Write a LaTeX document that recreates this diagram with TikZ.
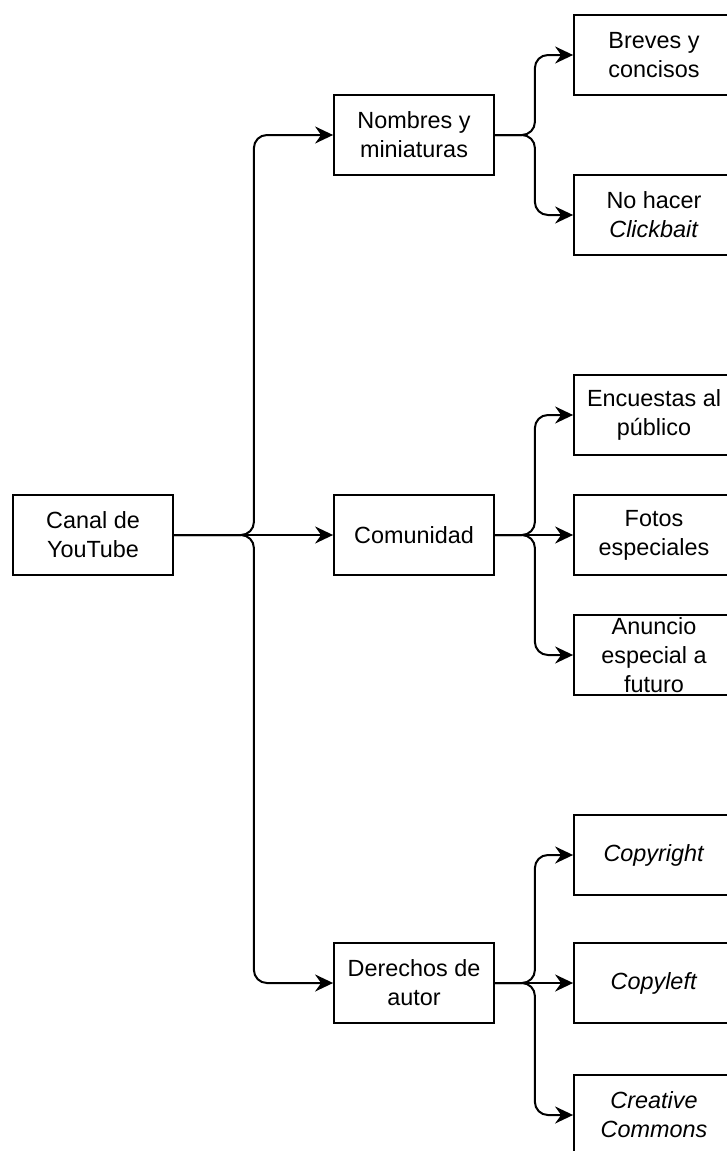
\documentclass[tikz,border=0pt]{standalone}
\usepackage{fontspec}
\setmainfont{Liberation Sans}
\usetikzlibrary{arrows.meta}
\tikzset{
  box/.style={draw, line width=1.8pt, minimum width=160pt, minimum height=80pt,
    inner sep=0pt, align=center, font=\fontsize{23.4pt}{28.8pt}\selectfont},
  conn/.style={line width=2pt, rounded corners=13pt,
    -{Stealth[length=18pt,width=17pt,inset=6pt]}}
}
\begin{document}
\begin{tikzpicture}[x=1pt,y=-1pt]
\useasboundingbox (0,0) rectangle (727,1151);
\clip (0,0) rectangle (727,1151);
\node[box] (canal) at (93,535) {Canal de\\YouTube};
\node[box] (nombres) at (414,135) {Nombres y\\miniaturas};
\node[box] (comunidad) at (414,535) {Comunidad};
\node[box] (derechos) at (414,983) {Derechos de\\autor};
\node[box] (breves) at (654,55) {Breves y\\concisos};
\node[box] (click) at (654,215) {No hacer\\\textit{Clickbait}};
\node[box] (encuestas) at (654,415) {Encuestas al\\público};
\node[box] (fotos) at (654,535) {Fotos\\especiales};
\node[box] (anuncio) at (654,655) {Anuncio\\especial a\\futuro};
\node[box] (copyright) at (654,855) {\textit{Copyright}};
\node[box] (copyleft) at (654,983) {\textit{Copyleft}};
\node[box] (creative) at (654,1115) {\textit{Creative}\\\textit{Commons}};

\draw[conn] (canal.east) -- ++(80,0) |- (nombres.west);
\draw[conn] (canal.east) -- (comunidad.west);
\draw[conn] (canal.east) -- ++(80,0) |- (derechos.west);

\draw[conn] (nombres.east) -- ++(40,0) |- (breves.west);
\draw[conn] (nombres.east) -- ++(40,0) |- (click.west);

\draw[conn] (comunidad.east) -- ++(40,0) |- (encuestas.west);
\draw[conn] (comunidad.east) -- (fotos.west);
\draw[conn] (comunidad.east) -- ++(40,0) |- (anuncio.west);

\draw[conn] (derechos.east) -- ++(40,0) |- (copyright.west);
\draw[conn] (derechos.east) -- (copyleft.west);
\draw[conn] (derechos.east) -- ++(40,0) |- (creative.west);
\end{tikzpicture}
\end{document}
